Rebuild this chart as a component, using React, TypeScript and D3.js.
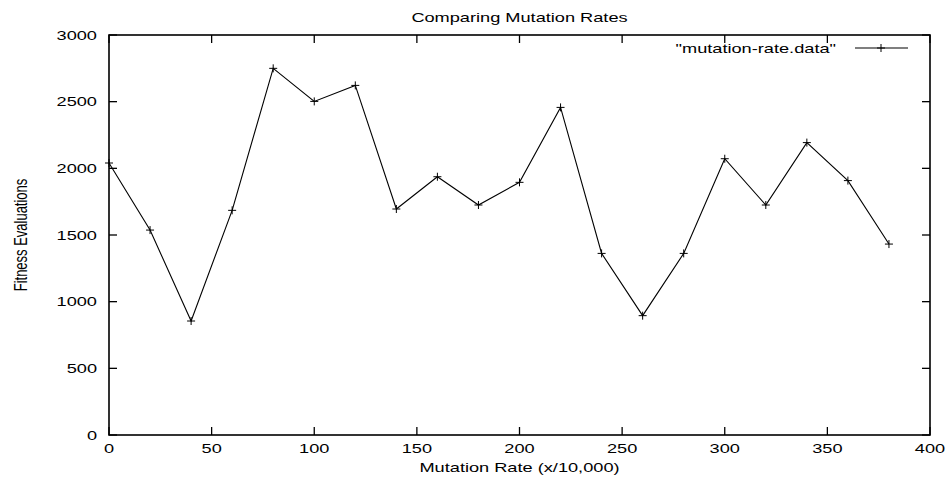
import * as d3 from "d3";

const width = 952;
const height = 480;
const margin = { top: 35, right: 22, bottom: 45, left: 109 };

// mutation rate (x/10,000) and fitness evaluations
const rates = [0, 20, 40, 60, 80, 100, 120, 140, 160, 180, 200, 220, 240, 260, 280, 300, 320, 340, 360, 380];
const evaluations = [2040, 1537, 855, 1685, 2750, 2502, 2622, 1695, 1937, 1725, 1895, 2457, 1362, 895, 1362, 2072, 1725, 2193, 1908, 1432];
const xTicks = [0, 50, 100, 150, 200, 250, 300, 350, 400];
const yTicks = [0, 500, 1000, 1500, 2000, 2500, 3000];

const font = "'Liberation Sans', Arial, Helvetica, sans-serif";
const sx = 1.4; // the original output is stretched horizontally

export default function App() {
  const x = d3.scaleLinear().domain([0, 400]).range([margin.left, width - margin.right]);
  const y = d3.scaleLinear().domain([0, 3000]).range([height - margin.bottom, margin.top]);

  const pts = rates.map((r, i) => [r, evaluations[i]] as [number, number]);
  const line = d3.line<[number, number]>()
    .x((d) => x(d[0]))
    .y((d) => y(d[1]));

  const x0 = x(0), x1 = x(400), y0 = y(0), y1 = y(3000);
  const tk = 8;
  const ms = 4; // half size of + marker

  const plus = (cx: number, cy: number, key: number | string) => (
    <path key={key} d={`M${cx - ms},${cy}H${cx + ms}M${cx},${cy - ms}V${cy + ms}`} stroke="#000" strokeWidth={1} />
  );

  // horizontally stretched text
  const label = (tx: number, ty: number, s: string, anchor: string, key?: string, dy?: string) => (
    <text key={key} transform={`translate(${tx},${ty}) scale(${sx},1)`} dy={dy} textAnchor={anchor} fontSize={13} fill="#000">
      {s}
    </text>
  );

  return (
    <svg width={width} height={height} style={{ position: "absolute", left: 0, top: 0 }} fontFamily={font}>
      <rect width={width} height={height} fill="#fff" />

      {/* title */}
      {label((x0 + x1) / 2, 22, "Comparing Mutation Rates", "middle")}

      {/* ticks, mirrored on all sides */}
      {xTicks.map((t) => (
        <g key={"x" + t}>
          <line x1={x(t)} x2={x(t)} y1={y0} y2={y0 - tk} stroke="#000" strokeWidth={1.3} />
          <line x1={x(t)} x2={x(t)} y1={y1} y2={y1 + tk} stroke="#000" strokeWidth={1.3} />
          {label(x(t), y0 + 18, String(t), "middle")}
        </g>
      ))}
      {yTicks.map((t) => (
        <g key={"y" + t}>
          <line x1={x0} x2={x0 + tk} y1={y(t)} y2={y(t)} stroke="#000" strokeWidth={1.3} />
          <line x1={x1} x2={x1 - tk} y1={y(t)} y2={y(t)} stroke="#000" strokeWidth={1.3} />
          {label(x0 - 12, y(t), String(t), "end", undefined, "0.35em")}
        </g>
      ))}

      {/* frame */}
      <rect x={x0} y={y1} width={x1 - x0} height={y0 - y1} fill="none" stroke="#000" strokeWidth={1.6} />

      {/* axis titles */}
      {label((x0 + x1) / 2, y0 + 37, "Mutation Rate (x/10,000)", "middle")}
      <text
        transform={`translate(27,${(y0 + y1) / 2}) scale(${sx},1) rotate(-90)`}
        textAnchor="middle"
        fontSize={13}
        fill="#000"
      >
        Fitness Evaluations
      </text>

      {/* data */}
      <path d={line(pts) ?? ""} fill="none" stroke="#000" strokeWidth={1.1} />
      {pts.map((d, i) => plus(x(d[0]), y(d[1]), i))}

      {/* legend */}
      {label(836, 48, "\"mutation-rate.data\"", "end", undefined, "0.35em")}
      <line x1={855} x2={908} y1={48} y2={48} stroke="#000" strokeWidth={1.1} />
      {plus(881, 48, "leg")}
    </svg>
  );
}
